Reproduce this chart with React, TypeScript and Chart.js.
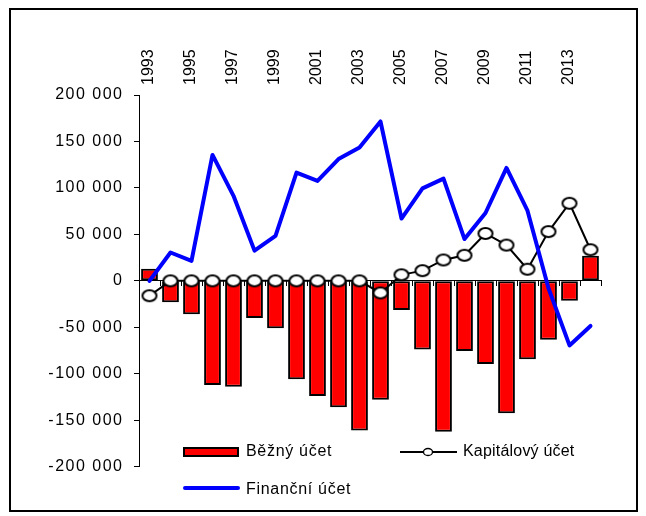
import React, { useEffect, useRef } from 'react';
import { Chart, registerables } from 'chart.js';

Chart.register(...registerables);

const years = [
  '1993', '1994', '1995', '1996', '1997', '1998', '1999', '2000', '2001', '2002', '2003',
  '2004', '2005', '2006', '2007', '2008', '2009', '2010', '2011', '2012', '2013', '2014',
];

const beznyUcet = [
  13000, -23000, -36000, -112000, -114000, -40000, -51000, -106000, -124000, -136000, -161000,
  -128000, -31500, -74000, -162500, -75500, -89500, -142500, -84500, -63500, -21500, 27000,
];

const kapitalovyUcet = [
  -16000, 0, 0, 0, 0, 0, 0, 0, 0, 0, 0,
  -13000, 6500, 11000, 22500, 27500, 51000, 38500, 12500, 53000, 83500, 33500,
];

const financniUcet = [
  0, 30500, 21500, 135500, 91500, 32500, 48500, 116500, 107500, 131000, 143500,
  171500, 67000, 99500, 110000, 45000, 73000, 121500, 75500, -8000, -69500, -48500,
];

const Y_MIN = -200000;
const Y_MAX = 200000;
const Y_STEP = 50000;

const FONT = '"Liberation Sans", Arial, sans-serif';

function fmt(v: number): string {
  const s = Math.abs(v).toString().replace(/\B(?=(\d{3})+(?!\d))/g, ' ');
  return (v < 0 ? '-' : '') + s;
}

const spacingPlugin = {
  id: 'spacing',
  beforeDraw(chart: any) {
    chart.ctx.letterSpacing = '1.5px';
  },
  beforeDatasetsDraw(chart: any) {
    chart.ctx.letterSpacing = '0px';
  },
};

export default function App() {
  const ref = useRef<HTMLCanvasElement>(null);

  useEffect(() => {
    const marker = document.createElement('canvas');
    marker.width = 18;
    marker.height = 15;
    const mc = marker.getContext('2d')!;
    mc.beginPath();
    mc.ellipse(9, 7.5, 7, 5.5, 0, 0, Math.PI * 2);
    mc.fillStyle = '#ffffff';
    mc.fill();
    mc.lineWidth = 2;
    mc.strokeStyle = '#000000';
    mc.stroke();

    const chart = new Chart(ref.current!, {
      type: 'bar',
      data: {
        labels: years,
        datasets: [
          {
            type: 'bar',
            label: 'Běžný účet',
            data: beznyUcet,
            backgroundColor: '#FF0000',
            borderColor: '#000000',
            borderWidth: 2,
            borderSkipped: false,
            categoryPercentage: 1,
            barPercentage: 0.8,
            order: 3,
          } as any,
          {
            type: 'line',
            label: 'Kapitálový účet',
            data: kapitalovyUcet,
            borderColor: '#000000',
            borderWidth: 2,
            pointStyle: marker,
            pointRadius: 7,
            tension: 0,
            order: 2,
          } as any,
          {
            type: 'line',
            label: 'Finanční účet',
            data: financniUcet,
            borderColor: '#0000FF',
            borderWidth: 4,
            pointRadius: 0,
            tension: 0,
            borderCapStyle: 'round',
            borderJoinStyle: 'round',
            order: 1,
          } as any,
        ],
      },
      options: {
        responsive: false,
        animation: false,
        layout: { padding: { left: 0, right: 45, top: 0, bottom: 49.3 } },
        plugins: { legend: { display: false }, tooltip: { enabled: false } },
        scales: {
          x: {
            type: 'category',
            position: { y: 0 } as any,
            offset: true,
            grid: {
              display: true,
              drawOnChartArea: false,
              drawTicks: true,
              tickLength: 5,
              color: '#000000',
              offset: true,
            },
            border: { display: true, color: '#000000', width: 1 },
            ticks: { display: false },
          },
          x2: {
            type: 'category',
            labels: years,
            position: 'top',
            offset: true,
            grid: { display: false, drawTicks: false },
            border: { display: false },
            ticks: {
              z: 1,
              autoSkip: false,
              maxRotation: 90,
              minRotation: 90,
              padding: 10,
              labelOffset: 18,
              color: '#000000',
              font: { family: FONT, size: 16 },
              callback: (_v: any, i: number) => (i % 2 === 0 ? years[i] : ''),
            },
            afterFit: (s: any) => {
              s.height = 95;
            },
          } as any,
          y: {
            type: 'linear',
            position: 'left',
            min: Y_MIN,
            max: Y_MAX,
            ticks: {
              stepSize: Y_STEP,
              padding: 10.5,
              color: '#000000',
              font: { family: FONT, size: 16 },
              callback: (v: any) => fmt(Number(v)),
            },
            grid: {
              drawOnChartArea: false,
              drawTicks: true,
              tickLength: 5,
              color: '#000000',
            },
            border: { display: true, color: '#000000', width: 1 },
            afterFit: (s: any) => {
              s.width = 139;
            },
          } as any,
        },
      },
      plugins: [spacingPlugin as any],
    });
    return () => chart.destroy();
  }, []);

  const textStyle: React.CSSProperties = {
    position: 'absolute',
    fontFamily: FONT,
    fontSize: 16,
    lineHeight: '18px',
    letterSpacing: '0.7px',
    color: '#000',
    whiteSpace: 'nowrap',
  };

  return (
    <div
      style={{
        position: 'fixed',
        left: 0,
        top: 0,
        width: 646,
        height: 516,
        background: '#ffffff',
        overflow: 'hidden',
      }}
    >
      <canvas
        ref={ref}
        width={646}
        height={516}
        style={{ position: 'absolute', left: 0, top: 0, width: 646, height: 516 }}
      />
      <div
        style={{
          position: 'absolute',
          left: 9,
          top: 8,
          width: 629,
          height: 504,
          border: '2px solid #000',
          boxSizing: 'border-box',
        }}
      />
      <div
        style={{
          position: 'absolute',
          left: 183,
          top: 447,
          width: 56,
          height: 10,
          background: '#FF0000',
          border: '2px solid #000',
          boxSizing: 'border-box',
        }}
      />
      <div style={{ ...textStyle, left: 246, top: 442 }}>Běžný účet</div>
      <svg
        width={58}
        height={12}
        style={{ position: 'absolute', left: 400, top: 446 }}
      >
        <line x1={0} y1={6} x2={57} y2={6} stroke="#000" strokeWidth={2} />
        <ellipse cx={28} cy={6} rx={4.5} ry={3.5} fill="#fff" stroke="#000" strokeWidth={1.3} />
      </svg>
      <div style={{ ...textStyle, left: 463, top: 442, letterSpacing: '0.2px' }}>Kapitálový účet</div>
      <div
        style={{
          position: 'absolute',
          left: 183,
          top: 486,
          width: 57,
          height: 4,
          background: '#0000FF',
          borderRadius: 2,
        }}
      />
      <div style={{ ...textStyle, left: 246, top: 480 }}>Finanční účet</div>
    </div>
  );
}
